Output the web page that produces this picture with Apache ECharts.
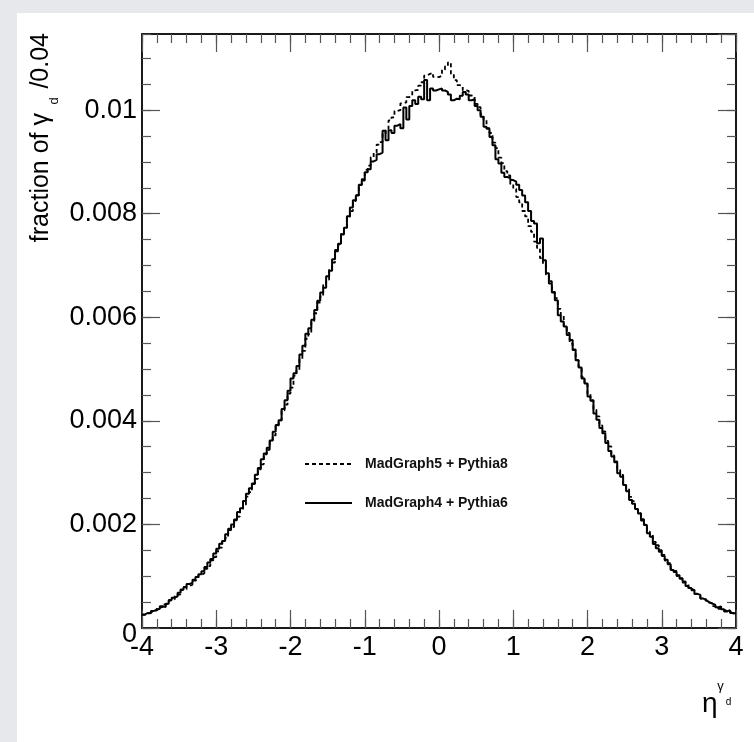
<!DOCTYPE html>
<html><head><meta charset="utf-8">
<script src="https://cdn.jsdelivr.net/npm/echarts@6/dist/echarts.min.js"></script>
<style>
html,body{margin:0;padding:0;width:754px;height:742px;background:#e7e8ec;overflow:hidden}
#panel{position:absolute;left:17px;top:13px;width:737px;height:729px;background:#fff}
#chart{width:737px;height:729px}
</style></head><body><div id="panel"><div id="chart"></div></div>
<script>
// Histogram binning: 200 bins of width 0.04 from -4 to 4
const ETA_LOW = -4;
const BIN_WIDTH = 0.04;
const seriesNames = ['MadGraph5 + Pythia8', 'MadGraph4 + Pythia6'];

// MadGraph5 + Pythia8 (dashed), bin contents
const mg5py8 = [
0.000255,0.000282,0.000296,0.000322,0.000340,
0.000392,0.000402,0.000455,0.000470,0.000528,
0.000552,0.000641,0.000650,0.000731,0.000748,
0.000812,0.000838,0.000915,0.000948,0.001022,
0.001058,0.001142,0.001195,0.001305,0.001368,
0.001482,0.001552,0.001678,0.001741,0.001889,
0.001948,0.002079,0.002152,0.002297,0.002381,
0.002538,0.002622,0.002781,0.002878,0.003062,
0.003161,0.003352,0.003441,0.003622,0.003718,
0.003905,0.004008,0.004205,0.004312,0.004528,
0.004641,0.004872,0.004978,0.005196,0.005352,
0.005585,0.005676,0.005912,0.006078,0.006285,
0.006398,0.006624,0.006728,0.006945,0.007058,
0.007272,0.007398,0.007612,0.007718,0.007925,
0.008048,0.008245,0.008358,0.008552,0.008668,
0.008845,0.008928,0.009092,0.009178,0.009335,
0.009382,0.009545,0.009638,0.009802,0.009861,
0.009985,0.010002,0.010132,0.010148,0.010252,
0.010272,0.010381,0.010392,0.010472,0.010538,
0.010668,0.010702,0.010721,0.010642,0.010638,
0.010661,0.010782,0.010842,0.010922,0.010682,
0.010578,0.010482,0.010468,0.010382,0.010372,
0.010282,0.010268,0.010122,0.010058,0.009912,
0.009818,0.009652,0.009558,0.009372,0.009268,
0.009082,0.008978,0.008822,0.008738,0.008572,
0.008478,0.008322,0.008218,0.008052,0.007948,
0.007762,0.007648,0.007462,0.007338,0.007142,
0.007018,0.006822,0.006698,0.006492,0.006368,
0.006162,0.006028,0.005832,0.005698,0.005492,
0.005368,0.005172,0.005038,0.004842,0.004718,
0.004522,0.004398,0.004212,0.004088,0.003912,
0.003798,0.003612,0.003508,0.003332,0.003218,
0.003052,0.002958,0.002782,0.002698,0.002532,
0.002448,0.002292,0.002218,0.002072,0.001998,
0.001862,0.001798,0.001662,0.001598,0.001472,
0.001412,0.001302,0.001252,0.001142,0.001102,
0.001002,0.000962,0.000878,0.000842,0.000758,
0.000732,0.000658,0.000632,0.000568,0.000552,
0.000492,0.000478,0.000422,0.000412,0.000372,
0.000358,0.000322,0.000318,0.000282,0.000276
];

// MadGraph4 + Pythia6 (solid), bin contents
const mg4py6 = [
0.000262,0.000291,0.000283,0.000330,0.000352,
0.000371,0.000420,0.000405,0.000468,0.000540,
0.000585,0.000612,0.000680,0.000745,0.000790,
0.000850,0.000872,0.000930,0.000985,0.001040,
0.001095,0.001180,0.001265,0.001330,0.001440,
0.001530,0.001625,0.001680,0.001810,0.001915,
0.002000,0.002095,0.002240,0.002310,0.002450,
0.002590,0.002700,0.002790,0.002960,0.003090,
0.003260,0.003370,0.003480,0.003620,0.003790,
0.003920,0.004010,0.004230,0.004400,0.004580,
0.004820,0.004920,0.005060,0.005280,0.005450,
0.005680,0.005790,0.005950,0.006140,0.006320,
0.006480,0.006570,0.006790,0.006900,0.007120,
0.007300,0.007420,0.007600,0.007730,0.007950,
0.008120,0.008260,0.008350,0.008560,0.008640,
0.008800,0.008860,0.009010,0.009040,0.009150,
0.009180,0.009600,0.009420,0.009610,0.009560,
0.009700,0.009730,0.009650,0.010050,0.009820,
0.010080,0.010190,0.010120,0.010260,0.010210,
0.010580,0.010190,0.010420,0.010380,0.010400,
0.010420,0.010380,0.010350,0.010300,0.010190,
0.010220,0.010210,0.010280,0.010350,0.010300,
0.010190,0.010210,0.010080,0.010000,0.009870,
0.009680,0.009640,0.009480,0.009320,0.009050,
0.008970,0.008790,0.008710,0.008690,0.008650,
0.008620,0.008560,0.008460,0.008350,0.008220,
0.008050,0.007860,0.007810,0.007430,0.007520,
0.007100,0.006850,0.006650,0.006480,0.006330,
0.006040,0.005920,0.005820,0.005660,0.005560,
0.005380,0.005170,0.005030,0.004820,0.004720,
0.004470,0.004390,0.004140,0.004020,0.003860,
0.003760,0.003570,0.003420,0.003310,0.003200,
0.002990,0.002920,0.002760,0.002640,0.002470,
0.002400,0.002300,0.002210,0.002100,0.001990,
0.001830,0.001760,0.001620,0.001540,0.001500,
0.001390,0.001320,0.001230,0.001120,0.001080,
0.001020,0.000950,0.000900,0.000810,0.000770,
0.000730,0.000660,0.000640,0.000570,0.000535,
0.000500,0.000470,0.000450,0.000400,0.000415,
0.000360,0.000320,0.000345,0.000290,0.000282
];

const xTickValues = [-4, -3, -2, -1, 0, 1, 2, 3, 4];
const xTickLabels = ['-4', '-3', '-2', '-1', '0', '1', '2', '3', '4'];
const yTickValues = [0, 0.002, 0.004, 0.006, 0.008, 0.01];
const yTickLabels = ['0', '0.002', '0.004', '0.006', '0.008', '0.01'];

const X_MIN = -4, X_MAX = 4, Y_MIN = 0, Y_MAX = 0.01147;

function toSteps(vals) {
  const pts = vals.map((v, i) => [ETA_LOW + i * BIN_WIDTH, v]);
  pts.push([ETA_LOW + vals.length * BIN_WIDTH, vals[vals.length - 1]]);
  return pts;
}
function lookup(vals, labels, v) {
  const i = vals.findIndex(t => Math.abs(t - v) < 1e-9);
  return i < 0 ? '' : labels[i];
}

const FONT = '"Liberation Sans", Arial, Helvetica, sans-serif';
const frameLine = { show: true, onZero: false, lineStyle: { color: '#1a1a1a', width: 2 } };
const noLine = { show: false, onZero: false };
const tickMajor = { show: true, inside: true, length: 18, lineStyle: { color: '#555', width: 1.2 } };
const tickMinor = { show: true, inside: true, length: 9, lineStyle: { color: '#555', width: 1.2 } };

function xAx(pos, interval, major, withLabels) {
  return {
    type: 'value', position: pos, min: X_MIN, max: X_MAX, interval: interval,
    axisLine: major ? frameLine : noLine,
    axisTick: major ? tickMajor : tickMinor,
    axisLabel: withLabels ? {
      show: true, fontSize: 27, color: '#000', fontFamily: FONT, margin: 6,
      formatter: v => lookup(xTickValues, xTickLabels, v)
    } : { show: false },
    splitLine: { show: false }
  };
}
function yAx(pos, interval, major, withLabels) {
  return {
    type: 'value', position: pos, min: Y_MIN, max: Y_MAX, interval: interval,
    axisLine: major ? frameLine : noLine,
    axisTick: major ? tickMajor : tickMinor,
    axisLabel: withLabels ? {
      show: true, fontSize: 27, color: '#000', fontFamily: FONT, margin: 5,
      showMaxLabel: false,
      formatter: v => {
        const s = lookup(yTickValues, yTickLabels, v);
        return s === '0' ? '{z|0}' : s;
      },
      rich: { z: { fontSize: 27, fontFamily: FONT, color: '#000', padding: [14, 0, 0, 0] } }
    } : { show: false },
    splitLine: { show: false }
  };
}

const chart = echarts.init(document.getElementById('chart'), null, { renderer: 'canvas' });
chart.setOption({
  animation: false,
  backgroundColor: '#ffffff',
  grid: { left: 125, top: 21, right: 18, bottom: 114, containLabel: false, outerBoundsMode: 'none' },
  xAxis: [
    xAx('bottom', 1, true, true),
    xAx('bottom', 0.2, false, false),
    xAx('top', 1, true, false),
    xAx('top', 0.2, false, false)
  ],
  yAxis: [
    yAx('left', 0.002, true, true),
    yAx('left', 0.0005, false, false),
    yAx('right', 0.002, true, false),
    yAx('right', 0.0005, false, false)
  ],
  legend: {
    show: true, orient: 'vertical', left: 282, top: 439,
    itemWidth: 47, itemHeight: 14, itemGap: 25,
    selectedMode: false,
    data: seriesNames,
    itemStyle: { opacity: 0 },
    textStyle: { fontFamily: FONT, fontWeight: 'bold', fontSize: 14, color: '#111', padding: [0, 0, 0, 8] }
  },
  series: [
    {
      name: seriesNames[0], type: 'line', step: 'end', symbol: 'none',
      xAxisIndex: 0, yAxisIndex: 0,
      data: toSteps(mg5py8),
      lineStyle: { color: '#000', width: 1.8, type: [4, 3] },
      itemStyle: { color: '#000' }, z: 2
    },
    {
      name: seriesNames[1], type: 'line', step: 'end', symbol: 'none',
      xAxisIndex: 0, yAxisIndex: 0,
      data: toSteps(mg4py6),
      lineStyle: { color: '#000', width: 2 },
      itemStyle: { color: '#000' }, z: 3
    }
  ],
  graphic: [
    { type: 'text', x: 24, y: 100, rotation: Math.PI / 2,
      style: { text: 'fraction of γ', fontSize: 25, fontFamily: FONT, fill: '#000', textAlign: 'right', textVerticalAlign: 'middle', align: 'right', verticalAlign: 'middle' } },
    { type: 'text', x: 37.5, y: 88, rotation: Math.PI / 2,
      style: { text: 'd', fontSize: 13, fontFamily: FONT, fill: '#000', textAlign: 'center', textVerticalAlign: 'middle', align: 'center', verticalAlign: 'middle' } },
    { type: 'text', x: 24, y: 20, rotation: Math.PI / 2,
      style: { text: '/0.04', fontSize: 25, fontFamily: FONT, fill: '#000', textAlign: 'right', textVerticalAlign: 'middle', align: 'right', verticalAlign: 'middle' } },
    { type: 'text', x: 685, y: 691,
      style: { text: 'η', fontSize: 28, fontFamily: FONT, fill: '#000', textAlign: 'left', textVerticalAlign: 'middle', align: 'left', verticalAlign: 'middle' } },
    { type: 'text', x: 703.5, y: 673,
      style: { text: 'γ', fontSize: 13, fontFamily: FONT, fill: '#000', textAlign: 'center', textVerticalAlign: 'middle', align: 'center', verticalAlign: 'middle' } },
    { type: 'text', x: 711.5, y: 689.5,
      style: { text: 'd', fontSize: 10, fontFamily: FONT, fill: '#000', textAlign: 'center', textVerticalAlign: 'middle', align: 'center', verticalAlign: 'middle' } }
  ]
});
</script></body></html>
